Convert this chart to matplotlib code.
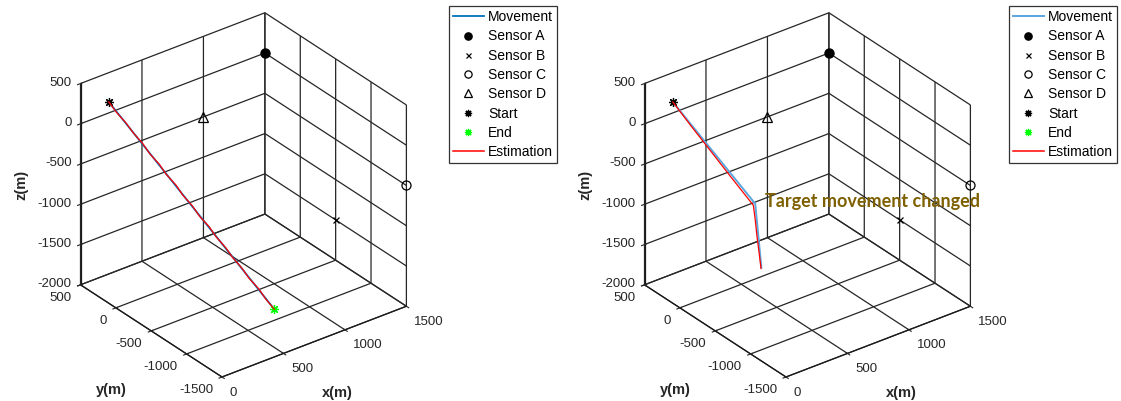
import numpy as np
import matplotlib
matplotlib.use("Agg")
import matplotlib.pyplot as plt
from mpl_toolkits.mplot3d import proj3d

# Sensor positions (m)
sensors = {
    "Sensor A": (1500, 500, 0),
    "Sensor B": (1500, -500, -1500),
    "Sensor C": (1500, -1500, -500),
    "Sensor D": (1000, 500, -500),
}

# Case 1: straight movement
move1_x = [0, 800]
move1_y = [100, -850]
move1_z = [500, -2000]
est1_x = [0, 38, 84, 118, 165, 197, 246, 277, 326, 357, 405, 436, 486, 517,
          565, 597, 644, 676, 726, 757, 800]
est1_y = [100, 55, 2, -40, -95, -135, -190, -230, -285, -325, -380, -420,
          -475, -515, -570, -610, -665, -705, -760, -800, -850]
est1_z = [500, 372, 245, 128, -5, -122, -256, -372, -505, -622, -756, -872,
          -1006, -1122, -1256, -1372, -1506, -1622, -1756, -1872, -2000]

# Case 2: movement changes half way
move2_x = [0, 400, 450]
move2_y = [100, -370, -370]
move2_z = [500, -730, -1550]
est2_x = [0, 92, 186, 282, 388, 402, 416, 430, 446]
est2_y = [100, -5, -118, -236, -364, -368, -366, -372, -372]
est2_z = [500, 200, -100, -410, -745, -940, -1140, -1350, -1560]

xlim = (0, 1500)
ylim = (-1500, 500)
zlim = (-2000, 500)
xticks = [0, 500, 1000, 1500]
yticks = [-1500, -1000, -500, 0, 500]
zticks = [-2000, -1500, -1000, -500, 0, 500]

plt.rcParams["font.family"] = ["Liberation Sans", "DejaVu Sans"]
plt.rcParams["axes.unicode_minus"] = False
plt.rcParams["grid.color"] = "#262626"
plt.rcParams["grid.linewidth"] = 0.9

W, H = 1121, 401
fig = plt.figure(figsize=(W / 100, H / 100), dpi=100)

sensor_style = {
    "Sensor A": dict(marker="o", mfc="black", mec="black", ms=6.5),
    "Sensor B": dict(marker="x", mfc="none", mec="black", ms=4.5, mew=0.9),
    "Sensor C": dict(marker="o", mfc="none", mec="black", ms=6.5, mew=0.9),
    "Sensor D": dict(marker="^", mfc="none", mec="black", ms=6.5, mew=0.9),
}
star = (8, 2, 0)


def corner(ax, x, y, z):
    xs, ys, _ = proj3d.proj_transform(x, y, z, ax.get_proj())
    return np.array(ax.transData.transform((xs, ys)))


def make_axes(off, leg_x, mx, my, mz, ex, ey, ez, mcolor, mlw, show_end):
    cx, cy = 243 + off, 206
    S = 500
    ax = fig.add_axes([(cx - S / 2) / W, (cy - S / 2) / H, S / W, S / H],
                      projection="3d")
    ax.set_facecolor("none")
    ax.set_proj_type("ortho")
    ax.view_init(elev=30, azim=-127.5)
    ax.set_box_aspect((1, 1, 1))
    ax.set_xlim(*xlim)
    ax.set_ylim(*ylim)
    ax.set_zlim(*zlim)
    ax.set_xticks(xticks)
    ax.set_yticks(yticks)
    ax.set_zticks(zticks)
    for axis in (ax.xaxis, ax.yaxis, ax.zaxis):
        axis.set_pane_color((1, 1, 1, 0))
        axis.pane.set_edgecolor("#1a1a1a")
        axis.pane.set_linewidth(0.9)
        axis.line.set_color("#1a1a1a")
        axis.line.set_linewidth(0.9)
    ax.tick_params(labelsize=9.5, colors="#262626")
    ax.xaxis.set_tick_params(pad=2)
    ax.yaxis.set_tick_params(pad=1)
    ax.zaxis.set_tick_params(pad=-3)
    ax.set_xticklabels([str(t) for t in xticks], ha="left", va="center")
    ax.set_yticklabels([str(t) for t in yticks], ha="right", va="center")
    ax.set_zticklabels([str(t) for t in zticks], ha="right", va="center")

    ax.plot(mx, my, mz, color=mcolor, lw=mlw, label="Movement")
    for name, (sx, sy, sz) in sensors.items():
        ax.plot([sx], [sy], [sz], ls="none", label=name, **sensor_style[name])
    ax.plot([mx[0]], [my[0]], [mz[0]], ls="none", marker=star, ms=6.5,
            mec="black", mew=0.9, label="Start")
    if show_end:
        ax.plot([mx[-1]], [my[-1]], [mz[-1]], ls="none", marker=star, ms=6.5,
                mec="#00ff00", mew=0.9, label="End")
    else:
        ax.plot([], [], [], ls="none", marker=star, ms=6.5,
                mec="#00ff00", mew=0.9, label="End")
    ax.plot(ex, ey, ez, color="#ff0000", lw=0.9, label="Estimation")

    # fit projected box to the reference layout
    front = np.array([222 + off, H - 377])
    top = np.array([264.3 + off, H - 12.7])
    fig.canvas.draw()
    p0 = corner(ax, xlim[0], ylim[0], zlim[0])
    p1 = corner(ax, xlim[1], ylim[1], zlim[1])
    s = np.hypot(*(top - front)) / np.hypot(*(p1 - p0))
    ax.set_box_aspect((1, 1, 1), zoom=s)
    fig.canvas.draw()
    p0 = corner(ax, xlim[0], ylim[0], zlim[0])
    pos = ax.get_position()
    d = (front - p0) / np.array([W, H])
    ax.set_position([pos.x0 + d[0], pos.y0 + d[1], pos.width, pos.height])

    leg = ax.legend(loc="upper left",
                    bbox_to_anchor=(leg_x / W, 1 - 6 / H),
                    bbox_transform=fig.transFigure, fontsize=10,
                    fancybox=False, edgecolor="#333333", framealpha=1,
                    borderpad=0.3, labelspacing=0.38, handlelength=2.2,
                    handletextpad=0.3, borderaxespad=0, markerscale=0.8)
    leg.get_frame().set_linewidth(0.9)
    leg.set_zorder(10)
    for h in leg.legend_handles:
        if h.get_linestyle() != "None":
            h.set_linewidth(max(h.get_linewidth(), 1.1))

    lab = dict(fontsize=10.5, fontweight="bold", color="#262626",
               ha="center", va="center")
    fig.text((21 + off) / W, 1 - 185 / H, "z(m)", rotation=90, **lab)
    fig.text((111 + off) / W, 1 - 390 / H, "y(m)", **lab)
    fig.text((337 + off) / W, 1 - 393 / H, "x(m)", **lab)
    return ax


ax1 = make_axes(0, 449, move1_x, move1_y, move1_z, est1_x, est1_y, est1_z,
                "#0072bd", 1.3, True)
ax2 = make_axes(564, 1009, move2_x, move2_y, move2_z, est2_x, est2_y, est2_z,
                "#5aa6dd", 1.4, False)

fig.text(765 / W, 1 - 207 / H, "Target movement changed", fontsize=13,
         fontweight="bold", color="#7f6000", family=["Lato", "DejaVu Sans"],
         ha="left", va="baseline")

fig.savefig("out.png", dpi=100)
